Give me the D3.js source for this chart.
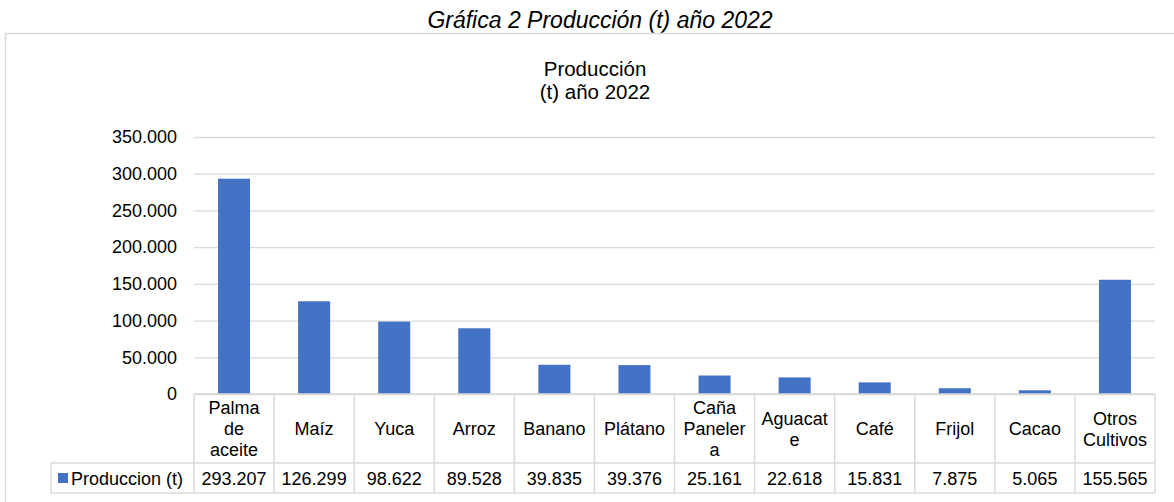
<!DOCTYPE html>
<html>
<head>
<meta charset="utf-8">
<script src="https://cdn.jsdelivr.net/npm/d3@7/dist/d3.min.js"></script>
<style>
  body { margin: 0; background: #fff; }
  text { font-family: "Liberation Sans", Arial, sans-serif; fill: #000; }
</style>
</head>
<body>
<svg id="chart" width="1174" height="502"></svg>
<script>
const categories = ["Palma de aceite", "Maíz", "Yuca", "Arroz", "Banano", "Plátano", "Caña Panelera", "Aguacate", "Café", "Frijol", "Cacao", "Otros Cultivos"];
const values = [293207, 126299, 98622, 89528, 39835, 39376, 25161, 22618, 15831, 7875, 5065, 155565];
const yTicks = [0, 50000, 100000, 150000, 200000, 250000, 300000, 350000];
const seriesName = "Produccion (t)";
const pageTitle = "Gráfica 2 Producción (t) año 2022";
const chartTitle = ["Producción", "(t) año 2022"];

const svg = d3.select("#chart");
const locale = d3.formatLocale({decimal: ",", thousands: ".", grouping: [3], currency: ["", ""]});
const fmt = locale.format(",d");

const grid = "#d9d9d9";
const barColor = "#4472c4";
const plotL = 194, plotR = 1155, plotT = 137, plotB = 394;
const rowCatBottom = 463, rowValBottom = 493, legendLeft = 51;

// page title
svg.append("text").attr("x", 600).attr("y", 28).attr("text-anchor", "middle")
  .style("font-size", "23px").style("font-style", "italic").text(pageTitle);

// chart border
svg.append("rect").attr("x", 5.5).attr("y", 33.5).attr("width", 1200).attr("height", 500)
  .attr("fill", "none").attr("stroke", grid).attr("stroke-width", 1.5);

// chart title (two separate lines)
chartTitle.forEach((s, i) => svg.append("text").attr("text-anchor", "middle")
  .style("font-size", "20.5px").attr("x", 595).attr("y", 76 + i * 22.5).text(s));

const x = d3.scaleBand().domain(categories).range([plotL, plotR]).paddingInner(0.6).paddingOuter(0.3);
const y = d3.scaleLinear().domain([0, 350000]).range([plotB, plotT]);

// gridlines + y labels via axis
const yAxis = svg.append("g").attr("transform", `translate(${plotL},0)`)
  .call(d3.axisLeft(y).tickValues(yTicks).tickFormat(fmt).tickSize(-(plotR - plotL)).tickPadding(17));
yAxis.select(".domain").remove();
yAxis.selectAll(".tick line").attr("stroke", grid).attr("stroke-width", 1.3);
yAxis.selectAll(".tick text").style("font-size", "18px").attr("fill", "#000")
  .style("font-family", '"Liberation Sans", Arial, sans-serif');

// bars
svg.append("g").selectAll("rect").data(values).join("rect")
  .attr("x", (d, i) => x(categories[i]))
  .attr("y", d => y(d))
  .attr("width", x.bandwidth())
  .attr("height", d => y(0) - y(d))
  .attr("fill", barColor);

// data table
const step = x.step();
const colX = i => plotL + i * step;
const tg = svg.append("g");
const lineStyle = s => s.attr("stroke", grid).attr("stroke-width", 1.5);
lineStyle(tg.append("line").attr("x1", plotL).attr("x2", plotR).attr("y1", plotB).attr("y2", plotB));
lineStyle(tg.append("line").attr("x1", legendLeft).attr("x2", plotR).attr("y1", rowCatBottom).attr("y2", rowCatBottom));
lineStyle(tg.append("line").attr("x1", legendLeft).attr("x2", plotR).attr("y1", rowValBottom).attr("y2", rowValBottom));
lineStyle(tg.append("line").attr("x1", legendLeft).attr("x2", legendLeft).attr("y1", rowCatBottom).attr("y2", rowValBottom));
for (let i = 0; i <= categories.length; i++) {
  lineStyle(tg.append("line").attr("x1", colX(i)).attr("x2", colX(i)).attr("y1", plotB).attr("y2", rowValBottom));
}

// wrap helper
const maxW = 70;
const measurer = svg.append("text").style("font-size", "18px").attr("visibility", "hidden");
function width(s) { measurer.text(s); return measurer.node().getComputedTextLength(); }
function wrap(label) {
  const words = label.split(" ");
  const lines = [];
  let cur = "";
  words.forEach(w => {
    const trial = cur ? cur + " " + w : w;
    if (width(trial) <= maxW) { cur = trial; return; }
    if (cur) lines.push(cur);
    cur = "";
    let piece = "";
    for (const ch of w) {
      if (width(piece + ch) > maxW && piece) { lines.push(piece); piece = ch; }
      else piece += ch;
    }
    cur = piece;
  });
  if (cur) lines.push(cur);
  return lines;
}

const lh = 21;
categories.forEach((c, i) => {
  const lines = wrap(c);
  const cx = colX(i) + step / 2;
  const mid = (plotB + rowCatBottom) / 2;
  const y0 = mid - (lines.length - 1) * lh / 2 + 6.5;
  const txt = tg.append("text").attr("text-anchor", "middle").style("font-size", "18px");
  lines.forEach((l, k) => txt.append("tspan").attr("x", cx).attr("y", y0 + k * lh).text(l));
  tg.append("text").attr("x", cx).attr("y", 485).attr("text-anchor", "middle")
    .style("font-size", "18px").text(fmt(values[i]));
});
measurer.remove();

// legend cell
tg.append("rect").attr("x", 58).attr("y", 473).attr("width", 10).attr("height", 10).attr("fill", barColor);
tg.append("text").attr("x", 71).attr("y", 485).style("font-size", "18px").text(seriesName);
</script>
</body>
</html>
